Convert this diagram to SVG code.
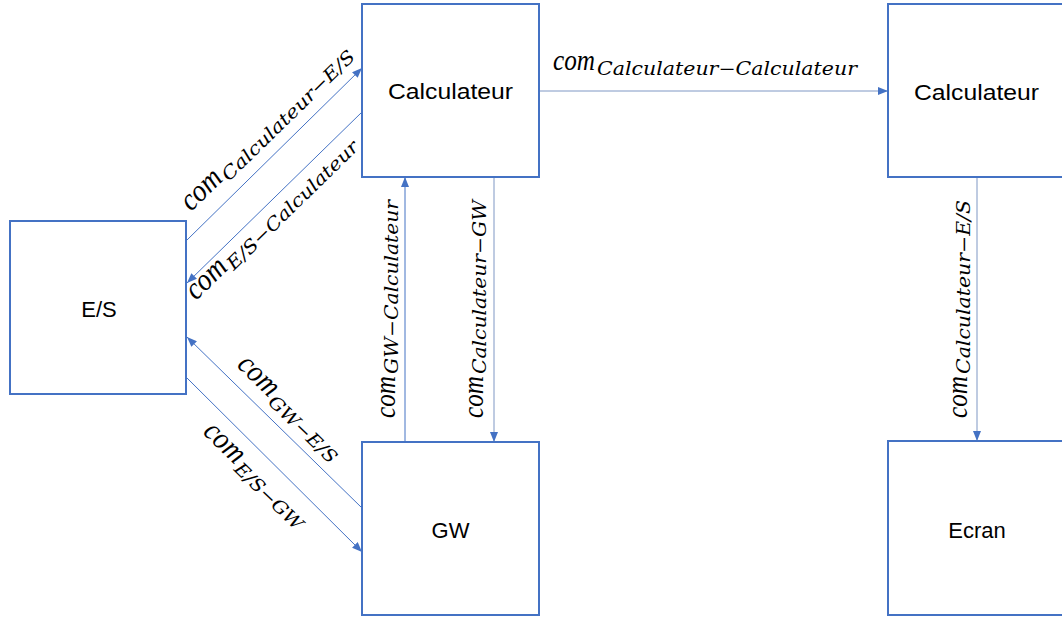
<svg xmlns="http://www.w3.org/2000/svg" width="1062" height="619" viewBox="0 0 1062 619">
<style>
.box{fill:#fff;stroke:#4472C4;stroke-width:2}
.lbl{font-family:"Liberation Sans",Arial,sans-serif;font-size:22px;fill:#000;text-anchor:middle}
.m{font-family:"DejaVu Serif",serif;font-style:italic;fill:#000}
.mc{font-family:"Liberation Serif","DejaVu Serif",serif;font-size:30px}
.md{font-family:"Liberation Serif","DejaVu Serif",serif;font-size:31px}
.ms{font-size:18px}
.conn{stroke:#4472C4;stroke-width:1;fill:none;marker-end:url(#ah)}
.conn2{stroke:#7F97C4;stroke-width:1;fill:none;marker-end:url(#ah)}
</style>
<defs>
<marker id="ah" markerUnits="userSpaceOnUse" markerWidth="10" markerHeight="8" refX="10" refY="4" orient="auto">
<path d="M0,0 L10,4 L0,8 z" fill="#4472C4"/>
</marker>
</defs>
<g id="connectors">
<line class="conn" x1="187" y1="240" x2="362" y2="68"/>
<line class="conn" x1="362" y1="112" x2="187" y2="283"/>
<line class="conn" x1="362" y1="508" x2="187" y2="337"/>
<line class="conn" x1="187" y1="378" x2="362" y2="552"/>
<line class="conn" x1="405" y1="442" x2="405" y2="177"/>
<line class="conn2" x1="494" y1="177" x2="494" y2="442"/>
<line class="conn2" x1="539" y1="91" x2="888" y2="91"/>
<line class="conn2" x1="977" y1="177" x2="977" y2="441"/>
</g>
<g id="labels">
<g transform="translate(553,70)"><text class="m mc" textLength="42" lengthAdjust="spacingAndGlyphs">com</text><text class="m ms" x="44" y="5" textLength="260" lengthAdjust="spacingAndGlyphs">Calculateur−Calculateur</text></g>
<g transform="translate(191,212) rotate(-44.3)"><text class="m md" textLength="46" lengthAdjust="spacingAndGlyphs">com</text><text class="m ms" x="48" y="5" textLength="178" lengthAdjust="spacingAndGlyphs">Calculateur−E/S</text></g>
<g transform="translate(196,301) rotate(-44.3)"><text class="m md" textLength="46" lengthAdjust="spacingAndGlyphs">com</text><text class="m ms" x="48" y="5" textLength="176" lengthAdjust="spacingAndGlyphs">E/S−Calculateur</text></g>
<g transform="translate(236,366) rotate(44.2)"><text class="m md" textLength="46" lengthAdjust="spacingAndGlyphs">com</text><text class="m ms" x="48" y="5" textLength="88" lengthAdjust="spacingAndGlyphs">GW−E/S</text></g>
<g transform="translate(202,433) rotate(44.2)"><text class="m md" textLength="46" lengthAdjust="spacingAndGlyphs">com</text><text class="m ms" x="48" y="5" textLength="88" lengthAdjust="spacingAndGlyphs">E/S−GW</text></g>
<g transform="translate(395,418) rotate(-90)"><text class="m mc" textLength="42" lengthAdjust="spacingAndGlyphs">com</text><text class="m ms" x="44" y="3" textLength="174" lengthAdjust="spacingAndGlyphs">GW−Calculateur</text></g>
<g transform="translate(483,418) rotate(-90)"><text class="m mc" textLength="42" lengthAdjust="spacingAndGlyphs">com</text><text class="m ms" x="44" y="3" textLength="174" lengthAdjust="spacingAndGlyphs">Calculateur−GW</text></g>
<g transform="translate(967,418) rotate(-90)"><text class="m mc" textLength="42" lengthAdjust="spacingAndGlyphs">com</text><text class="m ms" x="44" y="3" textLength="174" lengthAdjust="spacingAndGlyphs">Calculateur−E/S</text></g>
</g>
<g id="calc1"><rect class="box" x="362" y="4" width="177" height="173"/><text class="lbl" x="450.5" y="99" textLength="125" lengthAdjust="spacingAndGlyphs">Calculateur</text></g>
<g id="calc2"><rect class="box" x="888" y="4" width="177" height="173"/><text class="lbl" x="976.5" y="100" textLength="125" lengthAdjust="spacingAndGlyphs">Calculateur</text></g>
<g id="es"><rect class="box" x="10" y="221" width="176" height="173"/><text class="lbl" x="99" y="317">E/S</text></g>
<g id="gw"><rect class="box" x="362" y="442" width="177" height="173"/><text class="lbl" x="450.5" y="538">GW</text></g>
<g id="ecran"><rect class="box" x="888" y="441" width="177" height="174"/><text class="lbl" x="977" y="538">Ecran</text></g>
</svg>
